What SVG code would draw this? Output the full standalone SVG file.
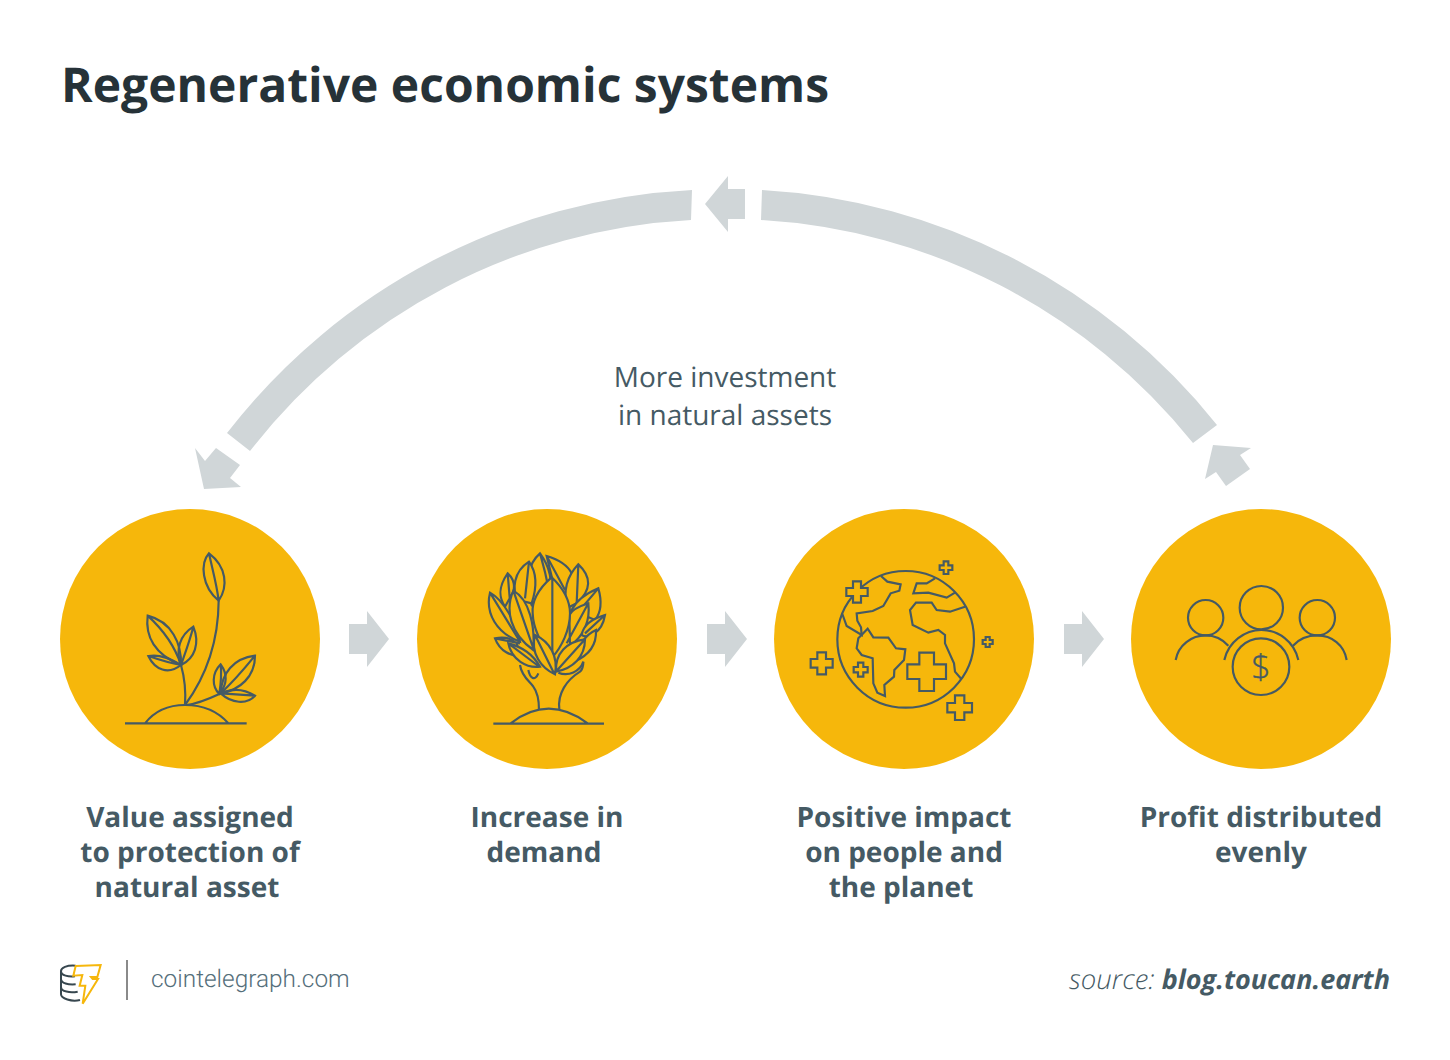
<svg xmlns="http://www.w3.org/2000/svg" width="1450" height="1060" viewBox="0 0 1450 1060">
<style>
text{text-rendering:geometricPrecision}
.title{font:700 48px "Open Sans",sans-serif;fill:#263238}
.lab{font:700 28px "Open Sans",sans-serif;fill:#455A64;text-anchor:middle}
.note{font:400 28px "Open Sans",sans-serif;fill:#455A64;text-anchor:middle}
.disc{fill:#F6B70B}
.ic{fill:none;stroke:#455A64;stroke-width:6.5;stroke-linejoin:miter;stroke-linecap:butt}
.lf{fill:#F6B70B;stroke:#455A64;stroke-width:6.5;stroke-linejoin:miter}
.flow{fill:#D0D6D8}
</style>
<rect width="1450" height="1060" fill="#fff"/>
<text class="title" x="61" y="102">Regenerative economic systems</text>

<g id="connectors">
<path class="flow" d="M692,190 A628,628 0 0 0 227,433 L250,451 A598,598 0 0 1 691,220 Z"/>
<polygon class="flow" points="195,448 205,461 216,448 240,465 230,478 241,487 204,489"/>
<path class="flow" d="M762,190 A628,628 0 0 1 1217,425 L1193,443 A598,598 0 0 0 761,220 Z"/>
<polygon class="flow" points="705,204 728,176 728,189 745,189 745,219 728,219 728,232"/>
<polygon class="flow" points="1213,445 1251,448 1240,455 1250,469 1226,486 1216,472 1205,479"/>
<polygon id="a1" class="flow" points="349,624 367,624 367,611 389,639 367,667 367,654 349,654"/>
<polygon id="a2" class="flow" points="707,624 725,624 725,611 747,639 725,667 725,654 707,654"/>
<polygon id="a3" class="flow" points="1064,624 1082,624 1082,611 1104,639 1082,667 1082,654 1064,654"/>
</g>
<text class="note" x="725" y="387">More investment</text>
<text class="note" x="725" y="425">in natural assets</text>

<g id="node1">
<circle class="disc" cx="190" cy="639" r="130"/>
<g transform="translate(100 530) scale(.33333)" class="ic">
<path d="M75,580H440M135,580C170,535 215,525 255,525C300,525 350,540 385,580"/>
<path d="M255,525C310,450 355,350 356,212"/>
<path d="M327,70C300,100 305,170 356,212C385,170 380,110 327,70ZM327,70C335,110 350,160 356,212"/>
<path d="M255,525C258,480 250,430 243,405"/>
<path d="M143,257C135,320 165,375 243,405C245,340 215,275 143,257ZM143,257C190,300 225,350 243,405"/>
<path d="M280,290C240,315 225,360 243,405C285,385 300,340 280,290ZM280,290C270,330 255,370 243,405"/>
<path d="M145,378C165,420 205,435 243,405C210,385 180,372 145,378ZM145,378C180,390 215,400 243,405"/>
<path d="M260,525C300,520 330,505 362,490"/>
<path d="M465,377C400,385 365,430 362,490C420,480 465,440 465,377ZM465,377C430,420 395,460 362,490"/>
<path d="M362,403C335,430 335,470 358,492C380,465 385,435 362,403ZM362,403C365,430 362,465 358,492"/>
<path d="M465,497C430,475 395,475 362,490C395,520 440,525 465,497ZM362,490L465,497"/>
</g>
<text class="lab" x="190" y="827">Value assigned</text>
<text class="lab" x="190" y="862">to protection of</text>
<text class="lab" x="187" y="897">natural asset</text>
</g>

<g id="node2">
<circle class="disc" cx="547" cy="639" r="130"/>
<g transform="translate(470 540) scale(.33333)" class="ic">
<path d="M70,551H402M122,550Q235,462 353,550"/>
<path d="M150,375C155,410 180,425 190,440C205,460 207,490 207,510M268,508C262,460 290,420 330,395C338,388 340,375 340,365"/>
<path d="M175,390C180,415 195,425 205,400M265,398C295,410 330,395 340,365"/>
<path class="lf" d="M230,48C270,60 295,80 305,100L285,160L255,150ZM230,48L285,150"/>
<path class="lf" d="M210,40C175,70 160,130 185,195L235,160C250,130 240,80 210,40ZM210,40C220,80 235,120 235,160"/>
<path class="lf" d="M177,65C130,95 125,150 145,180L185,190C205,130 195,90 177,65ZM177,65L165,175"/>
<path class="lf" d="M113,100C85,140 85,170 105,200L130,155C135,135 130,115 113,100ZM113,100L120,185"/>
<path class="lf" d="M325,73C290,110 280,150 290,205L320,190C365,150 365,110 325,73ZM325,73L320,190"/>
<path class="lf" d="M385,145C350,160 320,180 305,210L375,240C395,215 395,180 385,145ZM385,145L330,210"/>
<path class="lf" d="M60,158C45,220 80,280 150,305C140,250 100,180 60,158ZM60,158L150,305"/>
<path class="lf" d="M355,190C325,200 305,210 298,225L300,318C350,280 360,235 355,190ZM355,190L290,310"/>
<path class="lf" d="M405,225C370,235 340,255 335,285C350,295 395,285 405,225ZM405,225L345,280"/>
<path class="lf" d="M378,270C345,285 330,310 312,365C360,345 380,310 378,270Z"/>
<path class="lf" d="M130,152C105,210 120,280 190,330C195,260 180,180 130,152ZM130,152L190,325"/>
<path class="lf" d="M245,112C200,150 185,190 188,220C190,270 220,320 247,352C275,320 300,270 300,220C300,190 285,150 245,112ZM247,112V352"/>
<path class="lf" d="M75,295C90,335 125,350 150,345L140,310C125,295 100,290 75,295ZM75,295L150,310"/>
<path class="lf" d="M115,310C125,360 170,385 210,380C190,345 155,320 115,310ZM115,310L205,378"/>
<path class="lf" d="M195,285C180,340 215,385 255,403C265,350 240,305 195,285ZM195,285L252,400"/>
<path class="lf" d="M345,298C290,305 255,340 258,395C310,385 345,350 345,298ZM345,298L260,392"/>
</g>
<text class="lab" x="547" y="827">Increase in</text>
<text class="lab" x="544" y="862">demand</text>
</g>

<g id="node3">
<circle class="disc" cx="904" cy="639" r="130"/>
<g transform="translate(800 550) scale(.33333)" class="ic">
<circle cx="317" cy="268" r="205"/>
<path d="M243,78L262,95L302,103L298,122L272,130L250,168L218,183L170,190L172,212L183,232L185,255L140,228L127,192"/>
<path d="M175,265L203,236L220,262L265,263L288,295L316,298L312,330L283,360L282,380L253,405L255,438L232,428L220,400L218,325L185,315L170,295Z"/>
<path d="M405,85L380,100L350,100L340,130L385,128L440,143L465,128"/>
<path d="M495,170L450,185L410,180L395,158L348,158L330,180L338,225L385,248L415,240L435,255L435,280L462,340L465,365L484,387"/>
<path class="lf" d="M358,308H402V343H438V387H402V423H358V387H322V343H358Z"/>
<path class="lf" d="M159,94H183V114H203V138H183V158H159V138H139V114H159Z"/>
<path d="M431,34H445V46H457V60H445V72H431V60H419V46H431Z"/>
<path d="M557,261H569V270H578V282H569V291H557V282H548V270H557Z"/>
<path d="M52,307H78V327H98V353H78V373H52V353H32V327H52Z"/>
<path d="M174,338H190V351H203V367H190V380H174V367H161V351H174Z"/>
<path d="M465,436H493V459H516V487H493V510H465V487H442V459H465Z"/>
</g>
<text class="lab" x="904" y="827">Positive impact</text>
<text class="lab" x="904" y="862">on people and</text>
<text class="lab" x="901" y="897">the planet</text>
</g>

<g id="node4">
<circle class="disc" cx="1261" cy="639" r="130"/>
<g transform="translate(1165 575) scale(.33333)" class="ic">
<circle cx="289" cy="98" r="65"/>
<circle cx="122" cy="128" r="53"/>
<circle cx="457" cy="128" r="53"/>
<path d="M32,255C40,210 80,181 122,181C150,181 172,192 190,212"/>
<path d="M384,212C402,192 425,181 457,181C500,181 538,210 545,255"/>
<path d="M178,255C190,200 240,165 289,165C340,165 388,200 400,255"/>
<circle cx="288" cy="275" r="85"/>
</g>
<text x="1261" y="679" text-anchor="middle" style="font:300 34px 'Open Sans',sans-serif;fill:#455A64;stroke:#455A64;stroke-width:.4">$</text>
<text class="lab" x="1261" y="827">Profit distributed</text>
<text class="lab" x="1261" y="862">evenly</text>
</g>

<g id="footer">
<g transform="translate(55 955) scale(.33333)" fill="none" stroke-width="6">
<g stroke="#37474F">
<path d="M62,32C35,30 18,38 18,48V118C18,130 50,142 75,135"/>
<path d="M18,48C18,62 40,66 60,64M18,72C18,85 40,90 62,88M18,96C18,110 45,114 68,110"/>
</g>
<path stroke="#F6B70B" stroke-width="6" fill="#fff" d="M62,33L137,30L127,66L108,66L113,72L129,72L83,146L91,92L74,92L82,60L55,62Z"/>
</g>
<rect x="126" y="960" width="2" height="40" fill="#8A8A8A"/>
<text x="151" y="987" style="font:300 24.4px Roboto,sans-serif;fill:#546E7A">cointelegraph.com</text>
<text x="1390" y="989" text-anchor="end" style="font:italic 300 27.5px 'Open Sans',sans-serif;fill:#455A64">source: <tspan style="font-weight:700;font-style:italic;font-size:27px">blog.toucan.earth</tspan></text>
</g>
</svg>
